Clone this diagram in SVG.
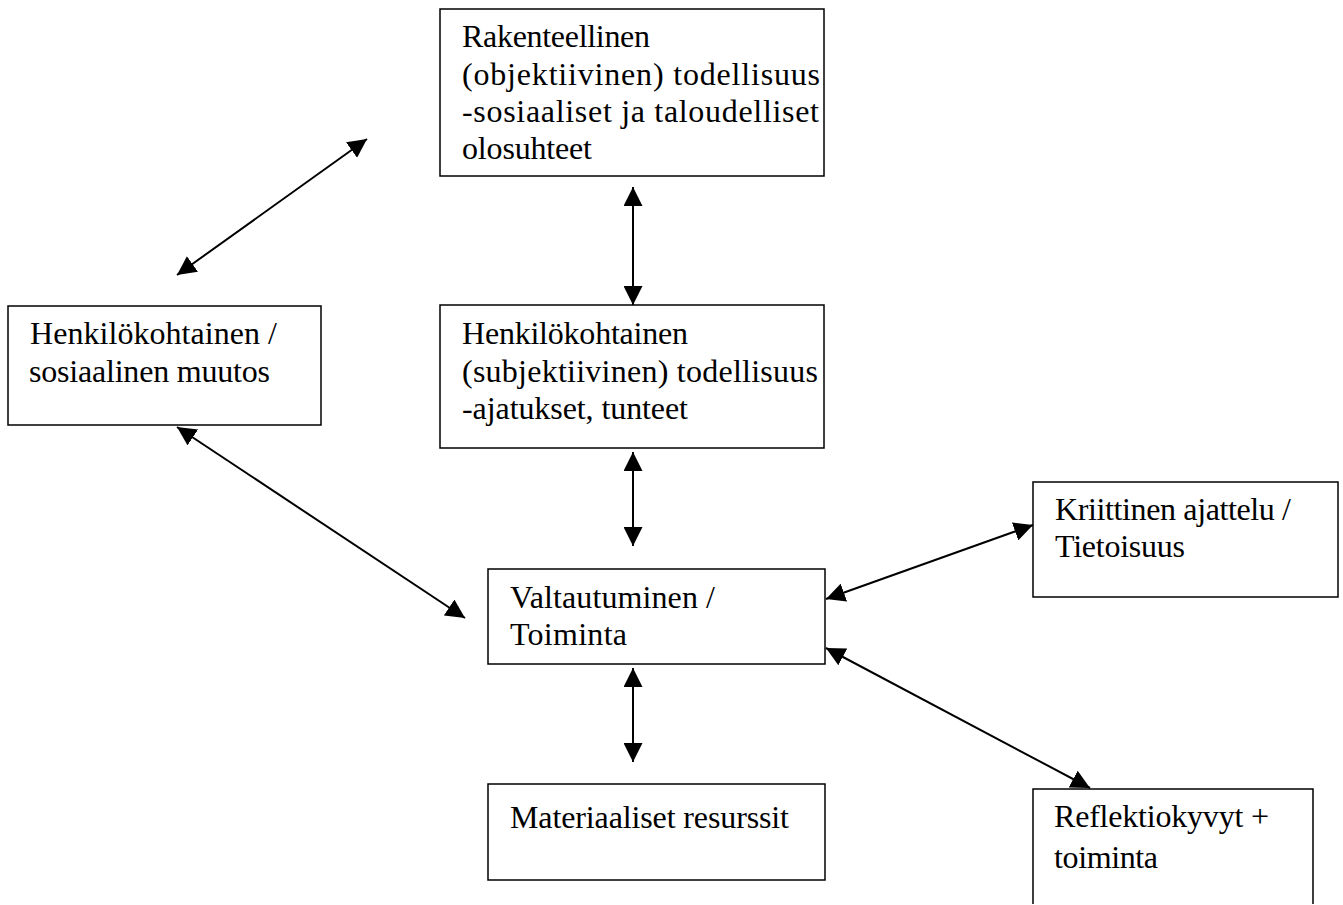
<svg xmlns="http://www.w3.org/2000/svg" width="1343" height="905" viewBox="0 0 1343 905">
<style>
.box{fill:#fff;stroke:#000;stroke-width:1.5}
.t{font-family:"Liberation Serif","Times New Roman",serif;font-size:32px;fill:#000}
.c{stroke:#000;stroke-width:2;fill:none;marker-start:url(#ah);marker-end:url(#ah)}
</style>
<defs>
<marker id="ah" markerUnits="userSpaceOnUse" markerWidth="19" markerHeight="19" refX="19" refY="9.5" orient="auto-start-reverse" viewBox="0 0 19 19">
<path d="M0,0 L19,9.5 L0,19 z" fill="#000"/>
</marker>
</defs>
<rect width="1343" height="905" fill="#fff"/>
<g id="connectors">
<line class="c" x1="177" y1="275" x2="367" y2="139"/>
<line class="c" x1="633" y1="187" x2="633" y2="305"/>
<line class="c" x1="177" y1="427" x2="465" y2="618"/>
<line class="c" x1="633" y1="452" x2="633" y2="546"/>
<line class="c" x1="826" y1="599" x2="1033" y2="525"/>
<line class="c" x1="826" y1="648" x2="1090" y2="788"/>
<line class="c" x1="633" y1="668" x2="633" y2="762"/>
</g>
<g id="n-rakenteellinen">
<rect class="box" x="440" y="9" width="384" height="167"/>
<text class="t" x="462" y="47" textLength="188" lengthAdjust="spacing">Rakenteellinen</text>
<text class="t" x="462" y="85" textLength="358" lengthAdjust="spacing">(objektiivinen) todellisuus</text>
<text class="t" x="462" y="122" textLength="357" lengthAdjust="spacing">-sosiaaliset ja taloudelliset</text>
<text class="t" x="462" y="159" textLength="130" lengthAdjust="spacing">olosuhteet</text>
</g>
<g id="n-subjektiivinen">
<rect class="box" x="440" y="305" width="384" height="143"/>
<text class="t" x="462" y="344" textLength="226" lengthAdjust="spacing">Henkilökohtainen</text>
<text class="t" x="462" y="382" textLength="356" lengthAdjust="spacing">(subjektiivinen) todellisuus</text>
<text class="t" x="462" y="419" textLength="226" lengthAdjust="spacing">-ajatukset, tunteet</text>
</g>
<g id="n-muutos">
<rect class="box" x="8" y="306" width="313" height="119"/>
<text class="t" x="30" y="344" textLength="247" lengthAdjust="spacing">Henkilökohtainen /</text>
<text class="t" x="29" y="382" textLength="241" lengthAdjust="spacing">sosiaalinen muutos</text>
</g>
<g id="n-valtautuminen">
<rect class="box" x="488" y="569" width="337" height="95"/>
<text class="t" x="510" y="608" textLength="205" lengthAdjust="spacing">Valtautuminen /</text>
<text class="t" x="510" y="645" textLength="117" lengthAdjust="spacing">Toiminta</text>
</g>
<g id="n-materiaaliset">
<rect class="box" x="488" y="784" width="337" height="96"/>
<text class="t" x="510" y="828" textLength="279" lengthAdjust="spacing">Materiaaliset resurssit</text>
</g>
<g id="n-kriittinen">
<rect class="box" x="1033" y="482" width="305" height="115"/>
<text class="t" x="1055" y="520" textLength="236" lengthAdjust="spacing">Kriittinen ajattelu /</text>
<text class="t" x="1055" y="557" textLength="130" lengthAdjust="spacing">Tietoisuus</text>
</g>
<g id="n-reflektio">
<path class="box" d="M1033,904 L1033,789 L1313,789 L1313,904"/>
<text class="t" x="1054" y="827" textLength="215" lengthAdjust="spacing">Reflektiokyvyt +</text>
<text class="t" x="1054" y="868" textLength="104" lengthAdjust="spacing">toiminta</text>
</g>
</svg>
